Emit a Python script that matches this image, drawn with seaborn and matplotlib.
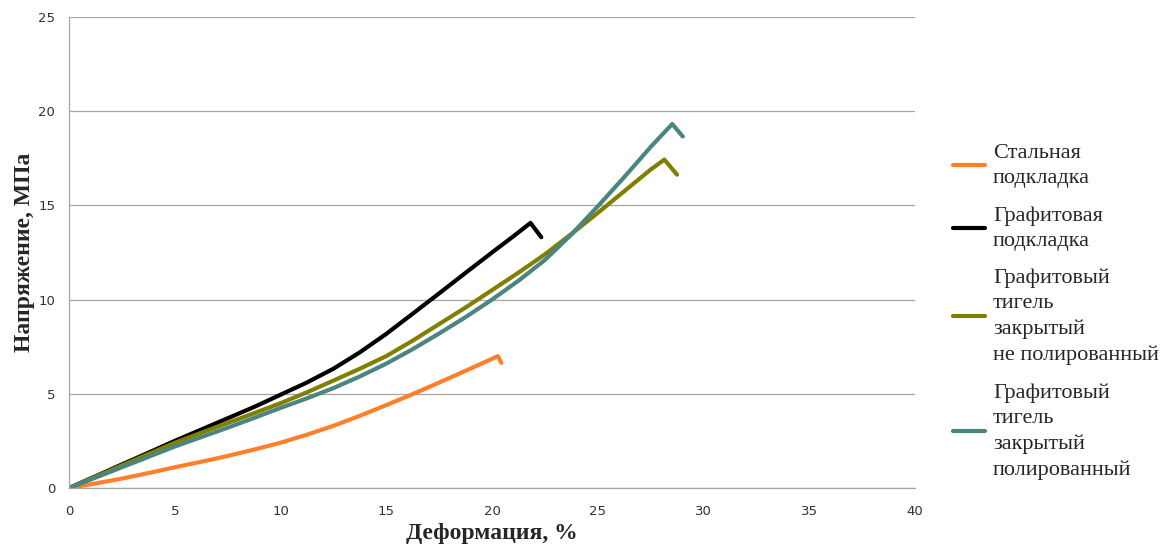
import numpy as np
import pandas as pd
import matplotlib
matplotlib.use("Agg")
import matplotlib.pyplot as plt
import seaborn as sns

# ---- data ----
steel_x = [0, 1.25, 2.5, 3.75, 5, 6.25, 7.5, 8.75, 10, 11.25, 12.5, 13.75, 15,
           16.25, 17.5, 18.75, 20.28, 20.44]
steel_y = [0, 0.24, 0.5, 0.79, 1.1, 1.39, 1.7, 2.04, 2.4, 2.83, 3.3, 3.83, 4.4,
           4.98, 5.6, 6.22, 7.0, 6.64]

graph_x = [0, 1.25, 2.5, 3.75, 5, 6.25, 7.5, 8.75, 10, 11.25, 12.5, 13.75, 15,
           16.25, 17.5, 18.75, 20, 21, 21.82, 22.33]
graph_y = [0, 0.62, 1.25, 1.87, 2.5, 3.1, 3.7, 4.3, 4.95, 5.6, 6.33, 7.2, 8.18,
           9.25, 10.33, 11.42, 12.5, 13.35, 14.07, 13.31]

unpol_x = [0, 1.25, 2.5, 3.75, 5, 6.25, 7.5, 8.75, 10, 11.25, 12.5, 13.75, 15,
           16.25, 17.5, 18.75, 20, 21.25, 22.5, 23.75, 25, 26.25, 27.5, 28.15, 28.75]
unpol_y = [0, 0.6, 1.2, 1.8, 2.4, 2.93, 3.45, 3.97, 4.5, 5.08, 5.7, 6.33, 7.0,
           7.82, 8.7, 9.58, 10.5, 11.43, 12.4, 13.48, 14.6, 15.75, 16.9, 17.43, 16.63]

pol_x = [0, 1.25, 2.5, 3.75, 5, 6.25, 7.5, 8.75, 10, 11.25, 12.5, 13.75, 15,
         16.25, 17.5, 18.75, 20, 21.25, 22.5, 23.75, 25, 26.25, 27.5, 28.52, 29.02]
pol_y = [0, 0.55, 1.1, 1.65, 2.2, 2.7, 3.2, 3.72, 4.25, 4.76, 5.3, 5.92, 6.6,
         7.37, 8.2, 9.07, 10.0, 11.0, 12.1, 13.45, 14.95, 16.5, 18.1, 19.32, 18.66]

labels = ["Стальная\nподкладка",
          "Графитовая\nподкладка",
          "Графитовый\nтигель\nзакрытый\nне полированный",
          "Графитовый\nтигель\nзакрытый\nполированный"]
colors = ["#ff7f2a", "#000000", "#808000", "#4a8582"]

xticks = [0, 5, 10, 15, 20, 25, 30, 35, 40]
yticks = [0, 5, 10, 15, 20, 25]

frames = []
for lab, xs, ys in zip(labels, [steel_x, graph_x, unpol_x, pol_x],
                       [steel_y, graph_y, unpol_y, pol_y]):
    frames.append(pd.DataFrame({"x": xs, "y": ys, "series": lab}))
df = pd.concat(frames, ignore_index=True)

sns.set_style("white")
plt.rcParams["font.family"] = ["DejaVu Sans"]

fig = plt.figure(figsize=(11.72, 5.5), dpi=100)
ax = fig.add_axes([69/1172, 1-488/550, (915-69)/1172, (488-17)/550])

sns.lineplot(data=df, x="x", y="y", hue="series", hue_order=labels,
             palette=colors, sort=False, estimator=None, units="series",
             linewidth=3, ax=ax, legend=True,
             solid_capstyle="round", solid_joinstyle="round")

ax.set_xlim(0, 40)
ax.set_ylim(0, 25)
ax.set_xticks(xticks)
ax.set_yticks(yticks)
ax.grid(axis="y", color="#a6a6a6", linewidth=0.9)
ax.grid(axis="x", visible=False)
ax.set_axisbelow(True)
for s in ["top", "right"]:
    ax.spines[s].set_visible(False)
for s in ["left", "bottom"]:
    ax.spines[s].set_color("#a6a6a6")
    ax.spines[s].set_linewidth(0.9)
ax.tick_params(axis="both", direction="out", length=4, width=0.9,
               color="#a6a6a6", labelsize=9.5, labelcolor="#303030")
ax.tick_params(axis="y", pad=6)
ax.tick_params(axis="x", pad=8)

serif = ["Liberation Serif", "DejaVu Serif"]
ax.set_xlabel("Деформация, %", fontsize=17, fontweight="bold",
              family=serif, labelpad=4)
ax.set_ylabel("Напряжение, МПа", fontsize=17, fontweight="bold",
              family=serif, labelpad=2)

ax.get_legend().remove()
handles, labs = ax.get_legend_handles_labels()
leg = fig.legend(handles, labs, loc="center left",
                 bbox_to_anchor=(953/1172, 1-312/550), frameon=False,
                 prop={"family": serif, "size": 16}, handlelength=1.45,
                 handletextpad=0.35, labelspacing=0.8, borderpad=0,
                 borderaxespad=0)
for t in leg.get_texts():
    t.set_linespacing(1.45)
for h in leg.legend_handles:
    h.set_linewidth(3)

fig.savefig("out.png", dpi=100)
